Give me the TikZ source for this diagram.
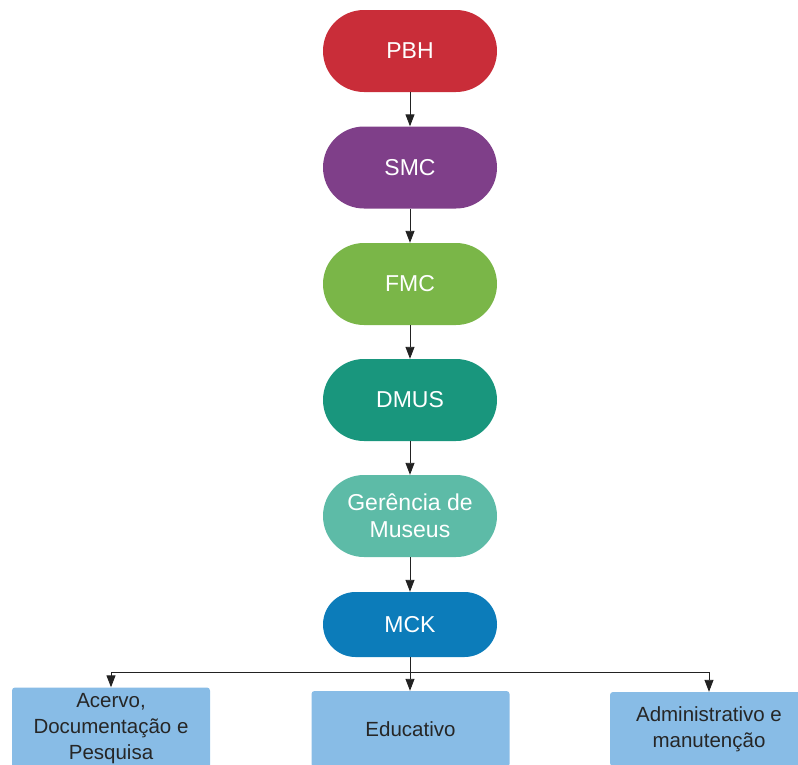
\documentclass[tikz,border=0pt]{standalone}
\usepackage{fontspec}
\setmainfont{Liberation Sans}
\usetikzlibrary{arrows.meta}

\definecolor{cPBH}{HTML}{C92D39}
\definecolor{cSMC}{HTML}{7F3F89}
\definecolor{cFMC}{HTML}{7AB648}
\definecolor{cDMUS}{HTML}{19967D}
\definecolor{cGER}{HTML}{5DBBA7}
\definecolor{cMCK}{HTML}{0C7CBA}
\definecolor{cSector}{HTML}{88BCE6}
\definecolor{cLine}{HTML}{222222}

\tikzset{
  stadium/.style={draw=none, rectangle, rounded corners=41pt,
    minimum width=174pt, minimum height=82pt, inner sep=0pt,
    text=white, align=center,
    font=\fontsize{23}{27}\selectfont},
  sector/.style={draw=none, rectangle, rounded corners=3pt, fill=cSector,
    minimum width=198pt, minimum height=82pt, inner sep=0pt,
    text=black!85, align=center,
    font=\fontsize{20.5}{26}\selectfont},
  link/.style={draw=cLine, line width=0.9pt,
    -{Triangle[length=12pt,width=9pt]}},
}

\begin{document}
\begin{tikzpicture}[x=1pt,y=-1pt]
  \useasboundingbox (0,0) rectangle (798,764);
  \clip (0,0) rectangle (798,764);

  % hierarchy chain
  \node[stadium, fill=cPBH]  (pbh)  at (410,51)    {PBH};
  \node[stadium, fill=cSMC]  (smc)  at (410,167.5) {SMC};
  \node[stadium, fill=cFMC]  (fmc)  at (410,284)   {FMC};
  \node[stadium, fill=cDMUS] (dmus) at (410,400)   {DMUS};
  \node[stadium, fill=cGER]  (ger)  at (410,516)   {Gerência de\\Museus};
  \node[stadium, fill=cMCK, minimum height=65pt, rounded corners=32.5pt]
        (mck)  at (410,624.5) {MCK};

  % sectors (cut by the lower edge of the page)
  \node[sector] (acervo) at (111,728.5) {Acervo,\\Documentação e\\Pesquisa};
  \node[sector, minimum height=76pt] (edu) at (410.5,729) {Educativo};
  \node[sector, minimum height=74pt] (adm) at (709,729)   {Administrativo e\\manutenção};

  % connectors
  \draw[link] (pbh)  -- (smc);
  \draw[link] (smc)  -- (fmc);
  \draw[link] (fmc)  -- (dmus);
  \draw[link] (dmus) -- (ger);
  \draw[link] (ger)  -- (mck);

  \coordinate (split) at (410,672);
  \draw[draw=cLine, line width=0.9pt] (mck.south) -- (split);
  \draw[link] (split) -- (split |- edu.north);
  \draw[link] (split) -| (acervo.north);
  \draw[link] (split) -| (adm.north);
\end{tikzpicture}
\end{document}
